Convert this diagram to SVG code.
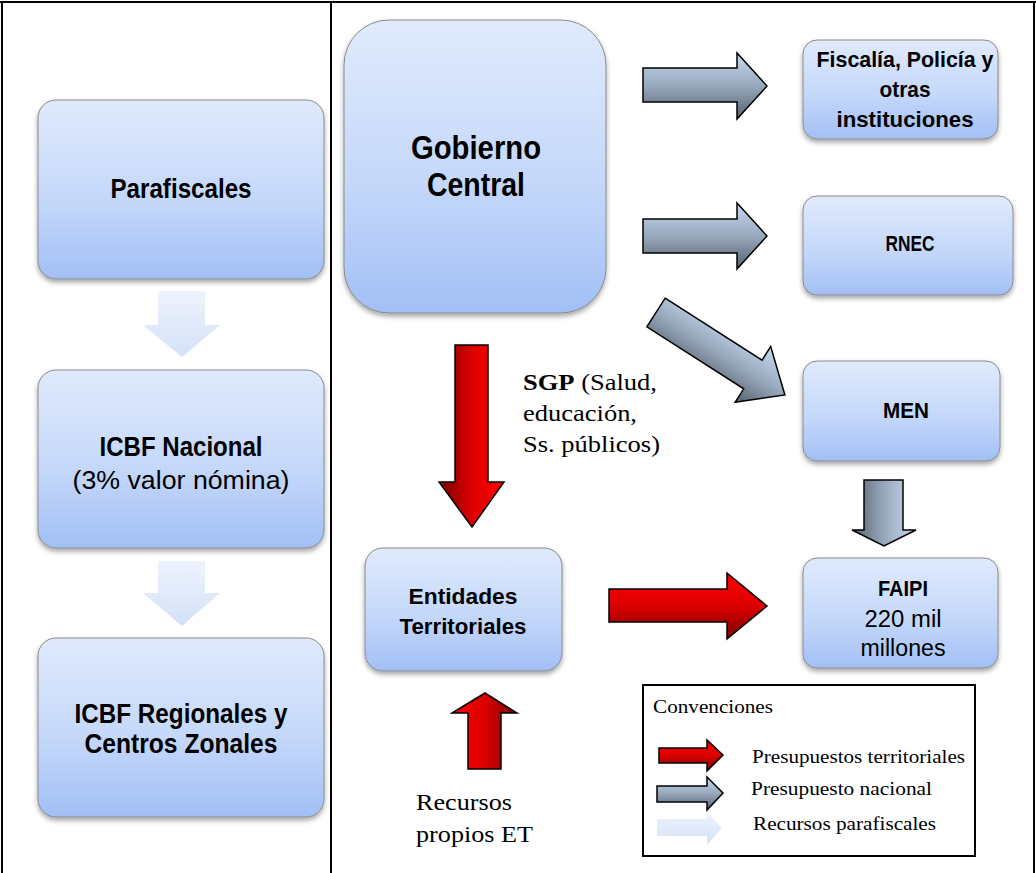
<svg xmlns="http://www.w3.org/2000/svg" width="1036" height="873" viewBox="0 0 1036 873">
<style>
.box{fill:url(#gBox);stroke:#8a8a8a;stroke-width:1;filter:url(#sh)}
.bt{font-family:"Liberation Sans",Arial,sans-serif;font-weight:bold;text-anchor:middle;fill:#000}
.rt{font-family:"Liberation Sans",Arial,sans-serif;text-anchor:middle;fill:#000}
.tt{font-family:"Liberation Serif","Times New Roman",serif;fill:#000}
.arr{stroke:#000;stroke-width:1.5;stroke-linejoin:miter}
.frame{stroke:#000;stroke-width:2;fill:none}
</style>
<defs>
<linearGradient id="gBox" x1="0" y1="0" x2="0" y2="1">
<stop offset="0" stop-color="#e0eafc"/><stop offset="0.55" stop-color="#c5d8fa"/><stop offset="1" stop-color="#a2bff5"/>
</linearGradient>
<linearGradient id="redV" x1="0" y1="0" x2="0" y2="1">
<stop offset="0" stop-color="#ff0000"/><stop offset="0.5" stop-color="#dc0000"/><stop offset="1" stop-color="#7a0000"/>
</linearGradient>
<linearGradient id="redLR" x1="0" y1="0" x2="1" y2="0">
<stop offset="0" stop-color="#7a0000"/><stop offset="0.5" stop-color="#dc0000"/><stop offset="1" stop-color="#ff0000"/>
</linearGradient>
<linearGradient id="redRL" x1="0" y1="0" x2="1" y2="0">
<stop offset="0" stop-color="#ff0000"/><stop offset="0.5" stop-color="#dc0000"/><stop offset="1" stop-color="#7a0000"/>
</linearGradient>
<linearGradient id="grayV" x1="0" y1="0" x2="0" y2="1">
<stop offset="0" stop-color="#c8d9f0"/><stop offset="0.5" stop-color="#98a8bc"/><stop offset="1" stop-color="#56616e"/>
</linearGradient>
<linearGradient id="grayLR" x1="0" y1="0" x2="1" y2="0">
<stop offset="0" stop-color="#56616e"/><stop offset="0.5" stop-color="#98a8bc"/><stop offset="1" stop-color="#c8d9f0"/>
</linearGradient>
<linearGradient id="lightV" x1="0" y1="0" x2="0" y2="1">
<stop offset="0" stop-color="#eef3fd"/><stop offset="1" stop-color="#d3e1f7"/>
</linearGradient>
<filter id="sh" x="-10%" y="-10%" width="120%" height="125%">
<feDropShadow dx="0" dy="3" stdDeviation="2.5" flood-color="#000" flood-opacity="0.35"/>
</filter>
</defs>

<g id="frame">
<line class="frame" x1="0" y1="2" x2="1036" y2="2"/>
<line class="frame" x1="2" y1="2" x2="2" y2="873"/>
<line class="frame" x1="1034" y1="2" x2="1034" y2="873"/>
<line class="frame" x1="331" y1="2" x2="331" y2="873"/>
</g>

<g id="connectors">
<polygon id="p-arrow1" fill="url(#lightV)" points="158,291 205,291 205,325 220,325 182,357 143,325 158,325"/>
<polygon id="p-arrow2" fill="url(#lightV)" points="158,561 205,561 205,593 220,593 182,626 143,593 158,593"/>
<polygon id="g-arrow1" class="arr" fill="url(#grayV)" points="643,68 737,68 737,53 767,86 737,119 737,102 643,102"/>
<polygon id="g-arrow2" class="arr" fill="url(#grayV)" points="643,219 737,219 737,203 767,236 737,269 737,253 643,253"/>
<polygon id="g-arrow3" class="arr" fill="url(#grayV)" transform="translate(656,312.5) rotate(32.6)" points="0,-17 115,-17 115,-33 153,0 115,33 115,17 0,17"/>
<polygon id="g-arrow4" class="arr" fill="url(#grayLR)" points="864,480 903,480 903,530 916,530 884,546 852,530 864,530"/>
<polygon id="r-arrow-down" class="arr" fill="url(#redLR)" points="455,345 488,345 488,482 504,482 472,527 439,482 455,482"/>
<polygon id="r-arrow-right" class="arr" fill="url(#redV)" points="609,589 727,589 727,573 767,606 727,639 727,622 609,622"/>
<polygon id="r-arrow-up" class="arr" fill="url(#redRL)" points="485,693 517,713 501,713 501,769 468,769 468,713 452,713"/>
</g>

<g id="parafiscales">
<rect class="box" x="38" y="100" width="286" height="179" rx="18"/>
<text class="bt" x="181" y="198" font-size="27" textLength="141" lengthAdjust="spacingAndGlyphs">Parafiscales</text>
</g>
<g id="icbf-nacional">
<rect class="box" x="38" y="370" width="286" height="178" rx="18"/>
<text class="bt" x="181" y="456" font-size="27" textLength="163" lengthAdjust="spacingAndGlyphs">ICBF Nacional</text>
<text class="rt" x="181" y="489" font-size="26" textLength="217" lengthAdjust="spacingAndGlyphs">(3% valor nómina)</text>
</g>
<g id="icbf-regionales">
<rect class="box" x="38" y="638" width="286" height="179" rx="18"/>
<text class="bt" x="181" y="723" font-size="27" textLength="213" lengthAdjust="spacingAndGlyphs">ICBF Regionales y</text>
<text class="bt" x="181" y="753" font-size="27" textLength="193" lengthAdjust="spacingAndGlyphs">Centros Zonales</text>
</g>
<g id="gobierno">
<rect class="box" x="344" y="20" width="262" height="293" rx="45"/>
<text class="bt" x="476" y="159" font-size="33" textLength="130" lengthAdjust="spacingAndGlyphs">Gobierno</text>
<text class="bt" x="476" y="196" font-size="33" textLength="98" lengthAdjust="spacingAndGlyphs">Central</text>
</g>
<g id="fiscalia">
<rect class="box" x="803" y="40" width="195" height="99" rx="14"/>
<text class="bt" x="905" y="67" font-size="22" textLength="177" lengthAdjust="spacingAndGlyphs">Fiscalía, Policía y</text>
<text class="bt" x="905" y="97" font-size="22" textLength="51" lengthAdjust="spacingAndGlyphs">otras</text>
<text class="bt" x="905" y="127" font-size="22" textLength="137" lengthAdjust="spacingAndGlyphs">instituciones</text>
</g>
<g id="rnec">
<rect class="box" x="803" y="196" width="210" height="99" rx="14"/>
<text class="bt" x="910" y="251" font-size="22" textLength="49" lengthAdjust="spacingAndGlyphs">RNEC</text>
</g>
<g id="men">
<rect class="box" x="803" y="361" width="197" height="100" rx="14"/>
<text class="bt" x="906" y="418" font-size="22" textLength="46" lengthAdjust="spacingAndGlyphs">MEN</text>
</g>
<g id="faipi">
<rect class="box" x="803" y="558" width="195" height="110" rx="14"/>
<text class="bt" x="903" y="596" font-size="22" textLength="50" lengthAdjust="spacingAndGlyphs">FAIPI</text>
<text class="rt" x="903" y="627" font-size="23" textLength="77" lengthAdjust="spacingAndGlyphs">220 mil</text>
<text class="rt" x="903" y="656" font-size="23" textLength="85" lengthAdjust="spacingAndGlyphs">millones</text>
</g>
<g id="entidades">
<rect class="box" x="365" y="548" width="197" height="123" rx="18"/>
<text class="bt" x="463" y="604" font-size="22" textLength="109" lengthAdjust="spacingAndGlyphs">Entidades</text>
<text class="bt" x="463" y="634" font-size="22" textLength="127" lengthAdjust="spacingAndGlyphs">Territoriales</text>
</g>

<g id="sgp-label">
<text class="tt" x="523" y="390" font-size="24" textLength="134" lengthAdjust="spacingAndGlyphs"><tspan font-weight="bold">SGP</tspan> (Salud,</text>
<text class="tt" x="523" y="421" font-size="24" textLength="114" lengthAdjust="spacingAndGlyphs">educación,</text>
<text class="tt" x="523" y="452" font-size="24" textLength="137" lengthAdjust="spacingAndGlyphs">Ss. públicos)</text>
</g>
<g id="recursos-label">
<text class="tt" x="416" y="810" font-size="24" textLength="96" lengthAdjust="spacingAndGlyphs">Recursos</text>
<text class="tt" x="416" y="842" font-size="24" textLength="117" lengthAdjust="spacingAndGlyphs">propios ET</text>
</g>

<g id="legend">
<rect x="643" y="685" width="332" height="171" fill="#fff" stroke="#000" stroke-width="2"/>
<text class="tt" x="653" y="713" font-size="19.5" textLength="120" lengthAdjust="spacingAndGlyphs">Convenciones</text>
<polygon class="arr" fill="url(#redV)" points="659,748 707,748 707,740 723,755 707,771 707,763 659,763"/>
<text class="tt" x="752" y="763" font-size="19.5" textLength="213" lengthAdjust="spacingAndGlyphs">Presupuestos territoriales</text>
<polygon class="arr" fill="url(#grayV)" points="657,786 707,786 707,777 723,793 707,810 707,802 657,802"/>
<text class="tt" x="751" y="795" font-size="19.5" textLength="181" lengthAdjust="spacingAndGlyphs">Presupuesto nacional</text>
<polygon fill="url(#lightV)" points="657,819 707,819 707,812 722,828 707,845 707,836 657,836"/>
<text class="tt" x="753" y="830" font-size="19.5" textLength="183" lengthAdjust="spacingAndGlyphs">Recursos parafiscales</text>
</g>
</svg>
